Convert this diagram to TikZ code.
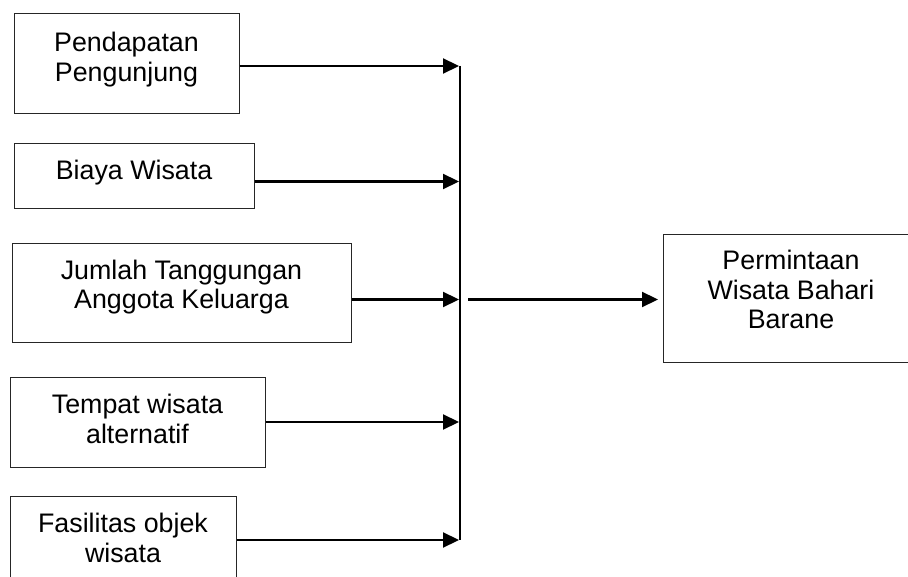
\documentclass[tikz,border=0pt]{standalone}
\usepackage{fontspec}
\setmainfont{Liberation Sans}
\usetikzlibrary{arrows.meta}
\begin{document}
\begin{tikzpicture}[x=1pt,y=-1pt,
  box/.style={draw=black!85,line width=1pt,rectangle,inner sep=0pt,fill=none},
  lbl/.style={align=center,inner sep=0pt,anchor=base,font=\fontsize{26.8}{29.5}\selectfont},
  arr/.style={line width=2.2pt,-{Triangle[length=16pt,width=15pt]},shorten >=1pt},
  bus/.style={line width=2.2pt}]
\useasboundingbox (0,0) rectangle (908,577);
\clip (0,0) rectangle (908,577);
% boxes
\node[box,minimum width=225pt,minimum height=100pt] (b1) at (126.5,64) {};
\node[box,minimum width=240pt,minimum height=65pt] (b2) at (134,176.5) {};
\node[box,minimum width=339pt,minimum height=99pt] (b3) at (181.5,293.5) {};
\node[box,minimum width=257pt,minimum height=128pt] (b4) at (791.5,299) {};
\node[box,minimum width=255pt,minimum height=89pt] (b5) at (137.5,422.5) {};
\node[box,minimum width=226pt,minimum height=110pt] (b6) at (123,551) {};
% labels (base anchor = baseline of the last line)
\node[lbl] (t1) at (126.5,81.5) {Pendapatan\\Pengunjung};
\node[lbl] (t2) at (134,180) {Biaya Wisata};
\node[lbl] (t3) at (181.5,309) {Jumlah Tanggungan\\Anggota Keluarga};
\node[lbl] (t4) at (791,329) {Permintaan\\Wisata Bahari\\Barane};
\node[lbl] (t5) at (137.5,443) {Tempat wisata\\alternatif};
\node[lbl] (t6) at (123,562) {Fasilitas objek\\wisata};
% junction points on the bus
\coordinate (j1) at (460,66);
\coordinate (j2) at (460,181.5);
\coordinate (j3) at (460,299.5);
\coordinate (j5) at (460,422);
\coordinate (j6) at (460,540);
\coordinate (o) at (468,299.5);
% bus
\draw[bus] (j1) -- (j6);
% arrows
\draw[arr] (b1.east |- j1) -- (j1);
\draw[arr] (b2.east |- j2) -- (j2);
\draw[arr] (b3.east |- j3) -- (j3);
\draw[arr] (b5.east |- j5) -- (j5);
\draw[arr] (b6.east |- j6) -- (j6);
\draw[arr,shorten >=4.5pt] (o) -- (b4.west |- o);
\end{tikzpicture}
\end{document}
